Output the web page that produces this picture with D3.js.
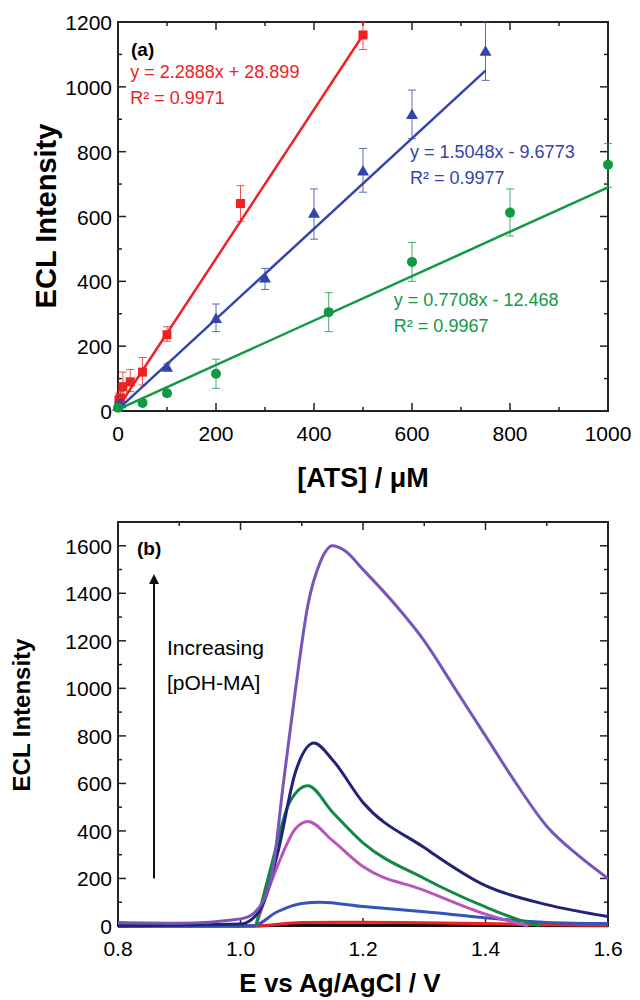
<!doctype html>
<html><head><meta charset="utf-8">
<style>body{margin:0;background:#fff;font-family:'Liberation Sans',Arial,sans-serif}</style>
</head><body>
<svg id="c" width="640" height="1000"></svg>
<script src="https://cdnjs.cloudflare.com/ajax/libs/d3/7.8.5/d3.min.js"></script>
<script>
// panel (a) data: [x, y, errLow, errHigh]
var redPts = [[2,35,15,55],[5,40,20,60],[10,75,40,120],[25,90,60,128],[50,120,80,165],[100,235,215,260],[250,640,585,695],[500,1160,1115,1200]];
var bluePts = [[0,15,5,25],[5,22,10,35],[100,135,125,145],[200,285,245,330],[300,410,375,440],[400,610,530,685],[500,740,675,810],[600,915,840,990],[750,1110,1020,1200]];
var greenPts = [[0,10,0,20],[50,25,20,30],[100,55,45,65],[200,115,70,160],[430,305,245,365],[600,460,400,520],[800,612,540,685],[1000,760,690,825]];
// fit lines as drawn: [x0,y0] -> [x1,y1]
var fits = [
  {from:[0,10], to:[500,1160], color:'#ee2222', lbl:['y = 2.2888x + 28.899','R² = 0.9971'], at:[25,1026]},
  {from:[0,5], to:[750,1050], color:'#3344aa', lbl:['y = 1.5048x - 9.6773','R² = 0.9977'], at:[596,780]},
  {from:[0,5], to:[1000,690], color:'#119944', lbl:['y = 0.7708x - 12.468','R² = 0.9967'], at:[563,325]}
];
var aTicksX = [0,200,400,600,800,1000], aTicksY = [0,200,400,600,800,1000,1200];

// panel (b) curves: [E, intensity]
var curves = [
  {color:'#111111', pts:[[0.8,0],[1.0,0],[1.1,4],[1.3,3],[1.6,1]]},
  {color:'#ee2222', pts:[[0.8,0],[1.02,0],[1.1,15],[1.2,16],[1.4,10],[1.5,5],[1.6,3]]},
  {color:'#3355bb', pts:[[0.8,0],[1.02,0],[1.06,60],[1.1,95],[1.13,100],[1.2,82],[1.3,60],[1.4,35],[1.5,15],[1.6,10]]},
  {color:'#bb55bb', pts:[[1.025,0],[1.06,250],[1.09,410],[1.11,440],[1.15,360],[1.2,250],[1.3,150],[1.4,50],[1.47,0]]},
  {color:'#118844', pts:[[1.025,0],[1.05,250],[1.08,520],[1.11,590],[1.15,480],[1.2,350],[1.3,200],[1.4,80],[1.45,30],[1.49,0]]},
  {color:'#222277', pts:[[0.8,0],[1.0,8],[1.03,60],[1.06,300],[1.09,650],[1.12,770],[1.15,700],[1.2,520],[1.3,330],[1.4,170],[1.5,90],[1.6,40]]},
  {color:'#7755bb', pts:[[0.8,15],[0.9,12],[1.0,30],[1.02,50],[1.05,200],[1.07,600],[1.09,1000],[1.11,1350],[1.13,1530],[1.15,1600],[1.17,1580],[1.2,1500],[1.25,1360],[1.3,1200],[1.35,1000],[1.4,800],[1.45,600],[1.5,420],[1.55,300],[1.6,200]]}
];
var bTicksX = [0.8,1.0,1.2,1.4,1.6], bTicksY = [0,200,400,600,800,1000,1200,1400,1600];

var svg = d3.select('#c');
var L = 118, R = 608;

function frame(x, y, top, bot, xt, yt, xminor, yminor, fmt) {
  var g = svg.append('g');
  g.append('rect').attr('x', L).attr('y', top).attr('width', R - L).attr('height', bot - top)
    .attr('fill', 'none').attr('stroke', '#222').attr('stroke-width', 2);
  xminor.forEach(function (v) {
    var len = xt.indexOf(v) >= 0 ? 8 : 4;
    g.append('line').attr('x1', x(v)).attr('x2', x(v)).attr('y1', bot).attr('y2', bot - len).attr('stroke', '#222').attr('stroke-width', 1.5);
    g.append('line').attr('x1', x(v)).attr('x2', x(v)).attr('y1', top).attr('y2', top + len).attr('stroke', '#222').attr('stroke-width', 1.5);
  });
  yminor.forEach(function (v) {
    var len = yt.indexOf(v) >= 0 ? 8 : 4;
    g.append('line').attr('y1', y(v)).attr('y2', y(v)).attr('x1', L).attr('x2', L + len).attr('stroke', '#222').attr('stroke-width', 1.5);
    g.append('line').attr('y1', y(v)).attr('y2', y(v)).attr('x1', R).attr('x2', R - len).attr('stroke', '#222').attr('stroke-width', 1.5);
  });
  xt.forEach(function (v) {
    g.append('text').attr('x', x(v)).attr('y', bot + 30).attr('text-anchor', 'middle').attr('font-size', 21).text(fmt(v));
  });
  yt.forEach(function (v) {
    g.append('text').attr('x', L - 6).attr('y', y(v) + 8).attr('text-anchor', 'end').attr('font-size', 21).text(v);
  });
}

// ---- panel (a)
var xa = d3.scaleLinear().domain([0, 1000]).range([L, R]);
var ya = d3.scaleLinear().domain([0, 1200]).range([411, 22]);
frame(xa, ya, 22, 411, aTicksX, aTicksY, d3.range(0, 1001, 100), d3.range(0, 1201, 100), String);
svg.append('text').attr('x', 56).attr('y', 216).attr('transform', 'rotate(-90,56,216)').attr('text-anchor', 'middle')
  .attr('font-size', 29).attr('font-weight', 'bold').text('ECL Intensity');
svg.append('text').attr('x', 363).attr('y', 487).attr('text-anchor', 'middle').attr('font-size', 27).attr('font-weight', 'bold').text('[ATS] / μM');
svg.append('text').attr('x', 131).attr('y', 56).attr('font-size', 19).attr('font-weight', 'bold').text('(a)');

var sets = [redPts, bluePts, greenPts];
fits.forEach(function (f, i) {
  svg.append('line').attr('x1', xa(f.from[0])).attr('y1', ya(f.from[1]))
    .attr('x2', xa(f.to[0])).attr('y2', ya(f.to[1])).attr('stroke', f.color).attr('stroke-width', 2.5);
  var g = svg.append('g');
  sets[i].forEach(function (p) {
    var cx = xa(p[0]);
    g.append('line').attr('x1', cx).attr('x2', cx).attr('y1', ya(p[2])).attr('y2', ya(p[3])).attr('stroke', f.color).attr('stroke-width', 0.8);
    [p[2], p[3]].forEach(function (e) {
      g.append('line').attr('x1', cx - 4).attr('x2', cx + 4).attr('y1', ya(e)).attr('y2', ya(e)).attr('stroke', f.color).attr('stroke-width', 0.8);
    });
    var cy = ya(p[1]);
    if (i === 0) g.append('rect').attr('x', cx - 4.5).attr('y', cy - 4.5).attr('width', 9).attr('height', 9).attr('fill', f.color);
    else if (i === 1) g.append('path').attr('d', 'M' + cx + ',' + (cy - 6) + 'L' + (cx + 6) + ',' + (cy + 4.5) + 'L' + (cx - 6) + ',' + (cy + 4.5) + 'Z').attr('fill', f.color);
    else g.append('circle').attr('cx', cx).attr('cy', cy).attr('r', 5).attr('fill', f.color);
  });
  f.lbl.forEach(function (t, k) {
    svg.append('text').attr('x', xa(f.at[0])).attr('y', ya(f.at[1]) + k * 26).attr('font-size', 18).attr('fill', f.color).text(t);
  });
});

// ---- panel (b)
var xb = d3.scaleLinear().domain([0.8, 1.6]).range([L, R]);
var yb = d3.scaleLinear().domain([0, 1700]).range([926, 522]);
frame(xb, yb, 522, 926, bTicksX, bTicksY, d3.range(0.8, 1.6001, 0.1).map(function (v) { return +v.toFixed(1); }),
  d3.range(0, 1701, 100), d3.format('.1f'));
svg.append('text').attr('x', 30).attr('y', 715).attr('transform', 'rotate(-90,30,715)').attr('text-anchor', 'middle')
  .attr('font-size', 24).attr('font-weight', 'bold').text('ECL Intensity');
svg.append('text').attr('x', 340).attr('y', 992).attr('text-anchor', 'middle').attr('font-size', 26).attr('font-weight', 'bold').text('E vs Ag/AgCl / V');
svg.append('text').attr('x', 137).attr('y', 555).attr('font-size', 19).attr('font-weight', 'bold').text('(b)');

var line = d3.line().x(function (d) { return xb(d[0]); }).y(function (d) { return yb(d[1]); }).curve(d3.curveMonotoneX);
curves.forEach(function (c) {
  svg.append('path').attr('d', line(c.pts)).attr('fill', 'none').attr('stroke', c.color).attr('stroke-width', 3);
});
svg.append('defs').append('marker').attr('id', 'ah').attr('viewBox', '0 0 10 10').attr('refX', 5).attr('refY', 5)
  .attr('markerWidth', 5).attr('markerHeight', 7).attr('orient', 'auto')
  .append('path').attr('d', 'M0,0L10,5L0,10Z').attr('fill', '#111');
svg.append('line').attr('x1', 154).attr('x2', 154).attr('y1', yb(200)).attr('y2', yb(1460)).attr('stroke', '#111').attr('stroke-width', 2).attr('marker-end', 'url(#ah)');
svg.append('text').attr('x', 167).attr('y', yb(1140)).attr('font-size', 21).text('Increasing');
svg.append('text').attr('x', 167).attr('y', yb(993)).attr('font-size', 21).text('[pOH-MA]');
</script>
</body></html>
